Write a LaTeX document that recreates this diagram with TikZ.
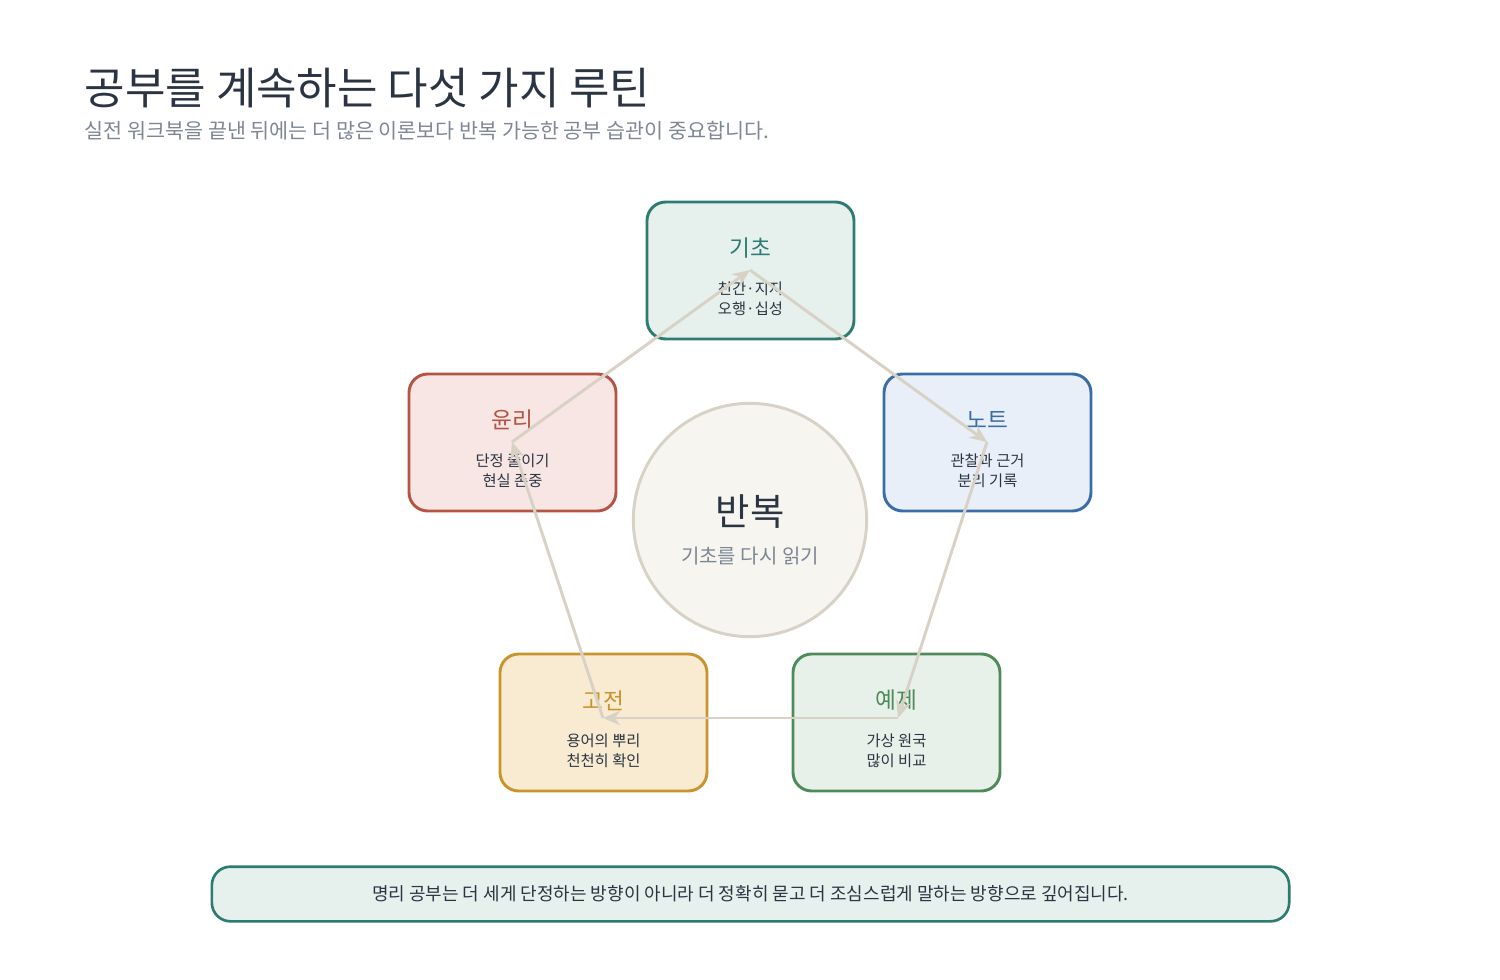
\documentclass[tikz,border=0pt]{standalone}
\usepackage{fontspec}
\setmainfont{Noto Sans CJK KR}
\usetikzlibrary{arrows.meta,calc}
\definecolor{ink}{HTML}{2B3442}
\definecolor{sub}{HTML}{7D8794}
\definecolor{arr}{HTML}{D8D2C6}
\definecolor{hubf}{HTML}{F6F5F0}
\definecolor{c1}{HTML}{2E7B72}\definecolor{f1}{HTML}{E6F1EE}
\definecolor{c2}{HTML}{3A6CA8}\definecolor{f2}{HTML}{E8EFF8}
\definecolor{c3}{HTML}{4E8A5A}\definecolor{f3}{HTML}{E7F1EA}
\definecolor{c4}{HTML}{C9942E}\definecolor{f4}{HTML}{F8EBD2}
\definecolor{c5}{HTML}{B35444}\definecolor{f5}{HTML}{F7E6E3}
\tikzset{
 card/.style={draw=#1, line width=2.2pt, rounded corners=14pt, minimum width=155.25pt, minimum height=102.75pt},
 ttl/.style={font=\fontsize{17}{17}\selectfont},
 body/.style={font=\fontsize{11.5}{15}\selectfont, text=ink, align=center},
 flow/.style={draw=arr, line width=2.2pt, -{Stealth[length=13pt,width=11pt]}},
}
\begin{document}
\begin{tikzpicture}[x=0.75pt,y=-0.75pt]
\useasboundingbox (0,0) rectangle (1500,980);
\node[anchor=base west, font=\fontsize{33}{33}\selectfont, text=ink] (title) at (80,105) {공부를 계속하는 다섯 가지 루틴};
\node[anchor=base west, font=\fontsize{15.5}{16}\selectfont, text=sub] (subt) at (80,139) {실전 워크북을 끝낸 뒤에는 더 많은 이론보다 반복 가능한 공부 습관이 중요합니다.};

\node[circle, draw=arr, fill=hubf, line width=2.2pt, minimum size=175pt] (hub) at (750,520) {};
\node[font=\fontsize{28}{28}\selectfont, text=ink] (hubt) at (750,512) {반복};
\node[font=\fontsize{15}{15}\selectfont, text=sub] (hubs) at (750,556) {기초를 다시 읽기};

\node[card=c1, fill=f1] (b1) at (750.5,270.5) {};
\node[card=c2, fill=f2] (b2) at (987.5,442.5) {};
\node[card=c3, fill=f3] (b3) at (896.5,722.5) {};
\node[card=c4, fill=f4] (b4) at (603.5,722.5) {};
\node[card=c5, fill=f5] (b5) at (512.5,442.5) {};

\foreach \n/\c/\t/\a/\b in {b1/c1/기초/천간·지지/오행·십성, b2/c2/노트/관찰과 근거/분리 기록, b3/c3/예제/가상 원국/많이 비교, b4/c4/고전/용어의 뿌리/천천히 확인, b5/c5/윤리/단정 줄이기/현실 존중}{
 \node[ttl, text=\c] (\n t) at ($(\n)+(0,-22)$) {\t};
 \node[body] (\n s) at ($(\n)+(0,28)$) {\a\\\b};
}

\coordinate (p1) at (750,270);
\coordinate (p2) at (987,442);
\coordinate (p3) at (898,718);
\coordinate (p4) at (603,718);
\coordinate (p5) at (512,442);
\draw[flow] (p1) -- (p2);
\draw[flow] (p2) -- (p3);
\draw[flow] (p3) -- (p4);
\draw[flow] (p4) -- (p5);
\draw[flow] (p5) -- (p1);

\node[draw=c1, fill=f1, line width=2pt, rounded corners=14pt, minimum width=808pt, minimum height=41pt, font=\fontsize{13.5}{14}\selectfont, text=ink] (foot) at (750.5,894) {명리 공부는 더 세게 단정하는 방향이 아니라 더 정확히 묻고 더 조심스럽게 말하는 방향으로 깊어집니다.};
\end{tikzpicture}
\end{document}
